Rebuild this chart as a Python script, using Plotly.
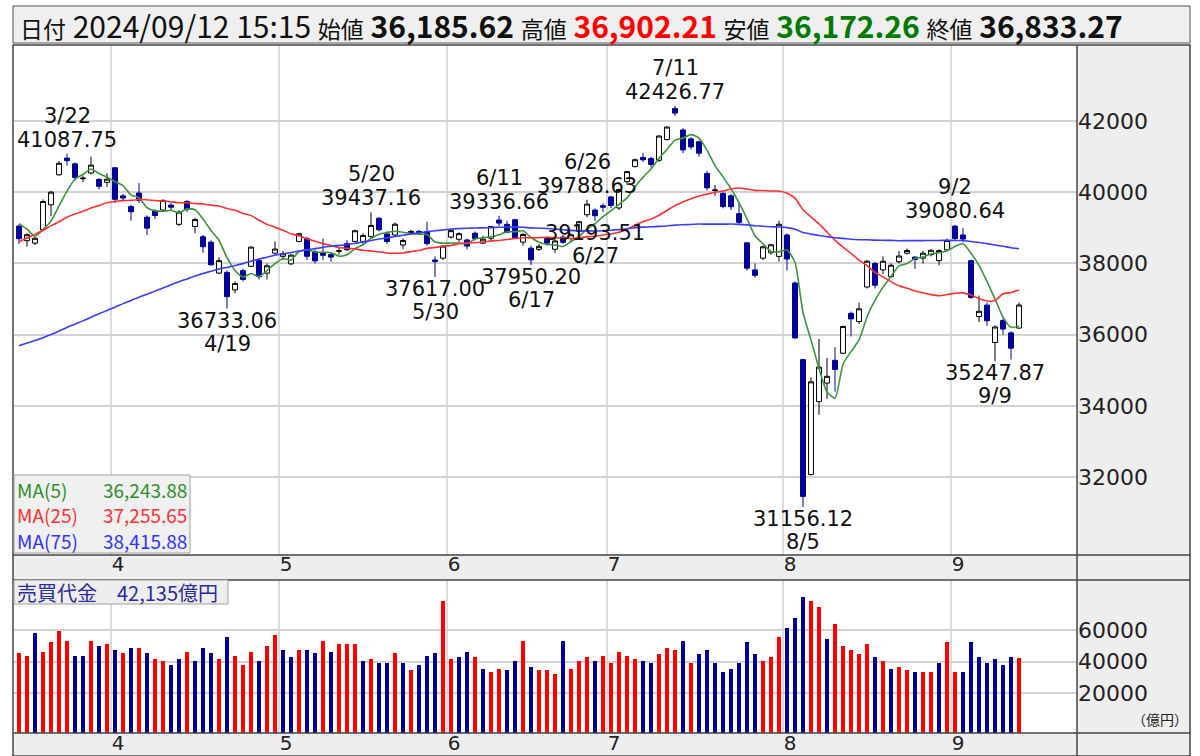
import numpy as np
import plotly.graph_objects as go

# ---------------- data ----------------
trading_days = {
    3: [13, 14, 15, 18, 19, 21, 22, 25, 26, 27, 28, 29],
    4: [1, 2, 3, 4, 5, 8, 9, 10, 11, 12, 15, 16, 17, 18, 19, 22, 23, 24, 25, 26, 30],
    5: [1, 2, 7, 8, 9, 10, 13, 14, 15, 16, 17, 20, 21, 22, 23, 24, 27, 28, 29, 30, 31],
    6: [3, 4, 5, 6, 7, 10, 11, 12, 13, 14, 17, 18, 19, 20, 21, 24, 25, 26, 27, 28],
    7: [1, 2, 3, 4, 5, 8, 9, 10, 11, 12, 16, 17, 18, 19, 22, 23, 24, 25, 26, 29, 30, 31],
    8: [1, 2, 5, 6, 7, 8, 9, 13, 14, 15, 16, 19, 20, 21, 22, 23, 26, 27, 28, 29, 30],
    9: [2, 3, 4, 5, 6, 9, 10, 11, 12],
}

opens = [
    39050, 38640, 38570, 38950, 39650, 40490, 40960, 40800, 40380, 40540, 40360, 40280,
    40690, 39900, 39600, 39980, 39300, 39480, 39500, 39640, 39100, 39740, 39040, 38750, 38600, 37730, 37750, 37260, 37800, 37920, 38080, 37730, 38290,
    38200, 37990, 38620, 38700, 38330, 38300, 38250, 38340, 38560, 38620, 38620, 38760, 39270, 38830, 38800, 38520, 38870, 38900, 38890, 38100, 38150,
    38740, 38680, 38660, 38850, 38570, 38710, 39220, 39100, 39230, 38600, 38430, 38400, 38700, 38400, 38740, 38700, 38900, 39370, 39500, 39620,
    39870, 39560, 40300, 40720, 40980, 40950, 40900, 41480, 42350, 41750, 41500, 41420, 40530, 40050, 39970, 39900, 39400, 38580, 37820, 38150, 38300, 38200,
    38800, 37450, 35300, 32070, 34120, 34640, 35280, 35480, 36600, 36370, 37340, 38000, 37820, 37630, 38050, 38290, 38180, 38150, 38250, 38080, 38380,
    39050, 38800, 38080, 36510, 36830, 35780, 36400, 36050, 36185.62,
]
highs = [
    39100, 38850, 38760, 39800, 40040, 40880, 41087.75, 40837, 40470, 41000, 40400, 40534,
    40697, 39950, 39650, 40260, 39350, 39520, 39800, 39700, 39500, 39780, 39280, 38800, 38650, 38180, 37800, 37500, 37850, 38480, 38100, 38000, 38620,
    38350, 38250, 38860, 38750, 38400, 38700, 38300, 38450, 38650, 38950, 38850, 39437.16, 39300, 38900, 39150, 38700, 38950, 38950, 39175, 38200, 38520,
    38960, 38880, 38700, 38900, 38780, 39050, 39336.66, 39200, 39250, 38850, 38500, 38550, 38750, 38700, 38800, 38850, 39200, 39788.63, 39550, 39700,
    39900, 40100, 40600, 40950, 41100, 41000, 41600, 41850, 42426.77, 41800, 41550, 41450, 40600, 40200, 40000, 39950, 39700, 38600, 38000, 38500, 38550, 39200,
    38850, 37500, 35300, 34800, 35880, 35350, 35650, 36250, 36650, 36900, 38100, 38050, 38200, 38000, 38350, 38420, 38200, 38350, 38400, 38400, 38700,
    39080.64, 39000, 38100, 37100, 36900, 36260, 36450, 36100, 36902.21,
]
lows = [
    38550, 38470, 38520, 38900, 39330, 40470, 40750, 40330, 40280, 40500, 40080, 40150,
    39700, 39750, 39200, 39700, 38800, 39250, 39450, 39500, 39050, 39450, 38850, 38300, 37950, 37700, 36733.06, 37160, 37500, 37900, 37550, 37550, 38250,
    38100, 37950, 38600, 38100, 38000, 38100, 38050, 38250, 38350, 38600, 38550, 38700, 38900, 38550, 38750, 38400, 38800, 38800, 38500, 37617.00, 38100,
    38700, 38600, 38400, 38650, 38550, 38650, 39050, 38850, 38700, 38500, 37950.20, 38350, 38500, 38300, 38550, 38600, 38850, 39300, 39193.51, 39450,
    39550, 39500, 40200, 40700, 40850, 40700, 40850, 41450, 42150, 41100, 41200, 41000, 40050, 39900, 39550, 39500, 39100, 37800, 37600, 38100, 38250, 38050,
    37800, 35880, 31156.12, 32050, 33750, 34200, 34400, 35450, 35950, 36300, 37300, 37300, 37700, 37600, 38000, 38250, 37850, 38000, 38200, 37950, 38350,
    38650, 38600, 37000, 36350, 36250, 35247.87, 36000, 35300, 36172.26,
]
closes = [
    38695.97, 38807.38, 38707.64, 39740.44, 40003.60, 40815.66, 40888.43, 40414.12, 40398.03, 40762.73, 40168.07, 40369.44,
    39803.09, 39838.91, 39451.85, 39773.13, 38992.08, 39347.04, 39773.14, 39581.81, 39442.63, 39523.55, 39232.80, 38471.20, 37961.80, 38079.70, 37068.35, 37438.61, 37552.16, 38460.08, 37628.48, 37934.76, 38405.66,
    38274.05, 38236.07, 38835.10, 38202.37, 38073.98, 38229.11, 38179.46, 38356.06, 38385.73, 38920.26, 38787.38, 39069.68, 38946.93, 38617.10, 39103.22, 38646.11, 38900.02, 38855.37, 38556.87, 38054.13, 38487.90,
    38923.03, 38837.46, 38490.17, 38703.51, 38683.93, 39038.16, 39134.79, 38876.71, 38720.47, 38814.56, 38102.44, 38482.11, 38570.76, 38633.02, 38596.47, 38804.65, 39173.15, 39667.07, 39341.54, 39583.08,
    39631.06, 40074.69, 40580.76, 40913.65, 40912.37, 40780.70, 41580.17, 41831.99, 42224.02, 41190.68, 41275.08, 41097.69, 40126.35, 40063.79, 39599.00, 39594.39, 39154.85, 37869.51, 37667.41, 38468.63, 38525.95, 39101.82,
    38126.33, 35909.70, 31458.42, 34675.46, 35089.62, 34831.15, 35025.00, 36232.51, 36442.43, 36726.64, 38062.67, 37388.62, 38062.92, 37951.80, 38211.01, 38364.27, 38110.22, 38288.62, 38371.76, 38362.53, 38647.75,
    38700.87, 38686.31, 37047.61, 36657.09, 36391.47, 36215.75, 36159.16, 35619.77, 36833.27,
]
# closes before the visible window (needed for the moving averages)
prior_closes = [
    33388, 33354, 33452, 33625, 33448, 33409, 33321, 33487,
    33432, 33231, 32776, 33446, 32858, 32307, 32791, 32843, 32926, 32686, 32971, 32759, 33219, 33676, 33141, 33170, 33255, 33306, 33682, 33540, 33464,
    33288, 33377, 33763, 34442, 35050, 35578, 35901, 35620, 35478, 35467, 35964, 36547, 36518, 36227, 36237, 35751, 36027, 36066, 36287,
    36012, 36158, 36355, 36160, 36120, 36864, 36897, 37964, 37704, 38158, 38488, 38470, 38364, 38263, 39099, 39234, 39240, 39208, 39166,
    39911, 40110, 40098, 40091, 39599, 39689, 38821, 38798,
]
# 売買代金 (億円)
volumes = [
    45300, 43800, 57900, 46300, 52200, 59400, 53300, 43800, 43800, 53300, 49900, 50900,
    47400, 45300, 48400, 48400, 45300, 41500, 40200, 37900, 41500, 46300, 40200, 48400, 45300, 41500, 55800, 43800, 37900, 46300, 40400, 49900, 56800,
    47400, 42700, 47400, 47400, 45300, 53300, 46300, 50900, 50900, 50900, 40200, 41500, 39200, 39200, 45300, 39200, 34500, 37900, 43800, 45300, 78100,
    41500, 42700, 46300, 42700, 35600, 33300, 35600, 34500, 40400, 53300, 36800, 34500, 34500, 32000, 53300, 35600, 40200, 42700, 40200, 43800,
    39200, 46300, 43800, 41500, 40200, 39200, 45100, 48600, 47400, 53300, 39200, 45100, 47400, 39200, 33300, 35600, 39200, 52200, 45100, 40200, 42700, 55600,
    61500, 67400, 80600, 78100, 74500, 54500, 64000, 49700, 47400, 45100, 50900, 42700, 40200, 35600, 36800, 34500, 33300, 33300, 33300, 39200, 52200,
    33300, 33300, 52200, 42700, 39200, 41500, 37900, 42700, 42135,
]
vol_updown = (
    "rrbrrrrbbrbr"
    "brbrbrrbbrbbbrbrrrbrr"
    "bbrbbrbrrrbrbbrbrbbbr"
    "rbbrbrrbbrbrrrbrrrbr"
    "rrrrbbrrrbrbbbbbbbbrrr"
    "bbbrrbrrrrrbrbrrbrrbr"
    "rbbbbbbbr"
)
high_label_days = ["3/22", "5/20", "6/11", "6/26", "7/11", "9/2"]
low_label_days = ["4/19", "5/30", "6/17", "6/27", "8/5", "9/9"]
ma_periods = [5, 25, 75]
ma_legend_values = [36243.88, 37255.65, 38415.88]
price_ticks = [32000, 34000, 36000, 38000, 40000, 42000]
volume_ticks = [20000, 40000, 60000]
header_time = "2024/09/12 15:15"

# ---------------- derived ----------------
dates = [f"{m}/{d}" for m, ds in trading_days.items() for d in ds]
months = [m for m, ds in trading_days.items() for d in ds]
n = len(dates)
x = list(range(n))
first_idx = [i for i in range(1, n) if months[i] != months[i - 1]]
month_labels = [str(months[i]) for i in first_idx]

allc = np.array(prior_closes + closes, dtype=float)
P = len(prior_closes)


def moving_average(p):
    return [allc[P + i - p + 1:P + i + 1].mean() for i in range(n)]


ma_colors = ["#3a963a", "#ff3030", "#3c3cff"]
legend_colors = ["#2f8f2f", "#ff3030", "#3333ff"]

W, H = 1200, 756
L, R, T, B = 14, 1077, 45, 733


def px(X):
    return (X - L) / (R - L)


def py(Y):
    return (B - Y) / (B - T)


PRICE_RANGE = [29812, 44137]
VOL_RANGE = [-5127, 91646]
VOL_FLOOR = VOL_RANGE[0]

fig = go.Figure()

fig.add_trace(go.Candlestick(
    x=x, open=opens, high=highs, low=lows, close=closes,
    increasing=dict(line=dict(color="#000000", width=1), fillcolor="#ffffff"),
    decreasing=dict(line=dict(color="#000099", width=1), fillcolor="#000099"),
    whiskerwidth=0, xaxis="x", yaxis="y", showlegend=False, hoverinfo="skip",
))

for p, c in zip(ma_periods, ma_colors):
    fig.add_trace(go.Scatter(
        x=x, y=moving_average(p), mode="lines",
        line=dict(color=c, width=1.6, shape="spline", smoothing=0.6),
        xaxis="x", yaxis="y", showlegend=False, hoverinfo="skip",
    ))

bar_colors = ["#ff0000" if s == "r" else "#000099" for s in vol_updown]
fig.add_trace(go.Bar(
    x=x, y=[v - VOL_FLOOR for v in volumes], base=VOL_FLOOR,
    marker=dict(color=bar_colors, line=dict(width=0)), width=0.62,
    xaxis="x2", yaxis="y2", showlegend=False, hoverinfo="skip",
))

grid = "#d2d2d2"

shapes = []
# backgrounds
shapes.append(dict(type="rect", xref="paper", yref="paper", x0=px(13), x1=px(1190), y0=py(43), y1=py(6),
                   fillcolor="#efefef", line=dict(color="#555555", width=1), layer="below"))
shapes.append(dict(type="rect", xref="paper", yref="paper", x0=px(1077), x1=px(1190), y0=py(756), y1=py(45),
                   fillcolor="#eeeeee", line=dict(width=0), layer="below"))
shapes.append(dict(type="rect", xref="paper", yref="paper", x0=px(13), x1=px(1190), y0=py(580), y1=py(555),
                   fillcolor="#eeeeee", line=dict(width=0), layer="below"))
shapes.append(dict(type="rect", xref="paper", yref="paper", x0=px(13), x1=px(1190), y0=py(756), y1=py(733),
                   fillcolor="#eeeeee", line=dict(width=0), layer="below"))
# month grid lines
for i in first_idx:
    for xr, yr in (("x", "y domain"), ("x2", "y2 domain")):
        shapes.append(dict(type="line", xref=xr, yref=yr, x0=i - 0.5, x1=i - 0.5, y0=0, y1=1,
                           line=dict(color=grid, width=1.6), layer="below"))
# frame lines
frame = dict(color="#444444", width=1.5)
shapes.append(dict(type="rect", xref="paper", yref="paper", x0=px(13), x1=px(1190), y0=py(756), y1=py(45),
                   line=frame, layer="above"))
for Y in (555, 580, 733):
    shapes.append(dict(type="line", xref="paper", yref="paper", x0=px(13), x1=px(1190), y0=py(Y), y1=py(Y),
                       line=frame, layer="above"))
shapes.append(dict(type="line", xref="paper", yref="paper", x0=px(1077), x1=px(1077), y0=py(756), y1=py(45),
                   line=frame, layer="above"))
# MA legend box and volume caption box
shapes.append(dict(type="rect", xref="paper", yref="paper", x0=px(14), x1=px(190), y0=py(553), y1=py(475),
                   fillcolor="#f0f0f0", line=dict(color="#a0a0a0", width=1), layer="above"))
shapes.append(dict(type="rect", xref="paper", yref="paper", x0=px(14), x1=px(228), y0=py(604), y1=py(580),
                   fillcolor="#eeeeee", line=dict(color="#a0a0a0", width=1), layer="above"))

ann = []
# header
last = n - 1
cj = "<span style='font-size:23px'>{}</span>"
hdr = (
    cj.format("日付") + " " + header_time + " " + cj.format("始値") + " <b>{:,.2f}</b> "
    + cj.format("高値") + " <b><span style='color:#ff0000'>{:,.2f}</span></b> "
    + cj.format("安値") + " <b><span style='color:#007a00'>{:,.2f}</span></b> "
    + cj.format("終値") + " <b>{:,.2f}</b>"
).format(opens[last], highs[last], lows[last], closes[last])
ann.append(dict(xref="paper", yref="paper", x=px(18), y=py(25), xanchor="left", yanchor="middle",
                text=hdr, showarrow=False,
                font=dict(family="Noto Sans CJK JP", size=30, color="#111111")))

lab_font = dict(family="DejaVu Sans", size=21, color="#111111")
for dstr in high_label_days:
    i = dates.index(dstr)
    ann.append(dict(x=i, y=highs[i], xref="x", yref="y", text=f"{highs[i]:.2f}",
                    showarrow=False, yanchor="bottom", xanchor="center", yshift=0, font=lab_font))
    ann.append(dict(x=i, y=highs[i], xref="x", yref="y", text=dstr,
                    showarrow=False, yanchor="bottom", xanchor="center", yshift=24, font=lab_font))
for dstr in low_label_days:
    i = dates.index(dstr)
    ann.append(dict(x=i, y=lows[i], xref="x", yref="y", text=f"{lows[i]:.2f}",
                    showarrow=False, yanchor="top", xanchor="center", yshift=2, font=lab_font))
    ann.append(dict(x=i, y=lows[i], xref="x", yref="y", text=dstr,
                    showarrow=False, yanchor="top", xanchor="center", yshift=-21, font=lab_font))

# MA legend
for k, (p, v, c) in enumerate(zip(ma_periods, ma_legend_values, legend_colors)):
    Y = 489 + k * 25.5
    ann.append(dict(xref="paper", yref="paper", x=px(15), y=py(Y), xanchor="left", yanchor="middle",
                    text=f"MA({p})", showarrow=False,
                    font=dict(family="Noto Sans CJK JP", size=19, color=c)))
    ann.append(dict(xref="paper", yref="paper", x=px(189), y=py(Y), xanchor="right", yanchor="middle",
                    text=f"{v:,.2f}", showarrow=False,
                    font=dict(family="Noto Sans CJK JP", size=19, color=c)))

ann.append(dict(xref="paper", yref="paper", x=px(15), y=py(592), xanchor="left", yanchor="middle",
                text=f"売買代金　{volumes[-1]:,}億円", showarrow=False,
                font=dict(family="Noto Sans CJK JP", size=20, color="#2c2ca0")))
ann.append(dict(xref="paper", yref="paper", x=px(1190), y=py(719), xanchor="right", yanchor="middle",
                text="（億円）", showarrow=False,
                font=dict(family="Noto Sans CJK JP", size=14, color="#222222")))

xcommon = dict(range=[-0.625, 132.25], tickmode="array", tickvals=[i + 0.4 for i in first_idx],
               ticktext=month_labels, showgrid=False, zeroline=False, showline=False, ticks="",
               tickfont=dict(family="DejaVu Sans", size=20, color="#222222"), fixedrange=True,
               automargin=False)
ycommon = dict(side="right", tickmode="array", showgrid=True, gridcolor=grid, gridwidth=1.6,
               zeroline=False, ticks="", tickfont=dict(family="DejaVu Sans", size=22, color="#222222"),
               fixedrange=True, automargin=False)

fig.update_layout(
    width=W, height=H, autosize=False,
    margin=dict(l=L, r=W - R, t=T, b=H - B, pad=0, autoexpand=False),
    paper_bgcolor="#ffffff", plot_bgcolor="#ffffff",
    showlegend=False, boxgap=0.12, bargap=0,
    xaxis=dict(anchor="y", rangeslider=dict(visible=False), ticklabelstandoff=-5, **xcommon),
    xaxis2=dict(anchor="y2", matches="x", ticklabelstandoff=-4, **xcommon),
    yaxis=dict(domain=[py(555), 1], range=PRICE_RANGE, tickvals=price_ticks,
               ticktext=[str(t) for t in price_ticks], **ycommon),
    yaxis2=dict(domain=[0, py(580)], range=VOL_RANGE, tickvals=volume_ticks,
                ticktext=[str(t) for t in volume_ticks], **ycommon),
    shapes=shapes, annotations=ann,
)

fig.write_html(
    "out.html",
    config={"displayModeBar": False},
    post_script="document.body.style.margin='0px';document.body.style.padding='0px';"
                "document.body.style.overflow='hidden';",
)
